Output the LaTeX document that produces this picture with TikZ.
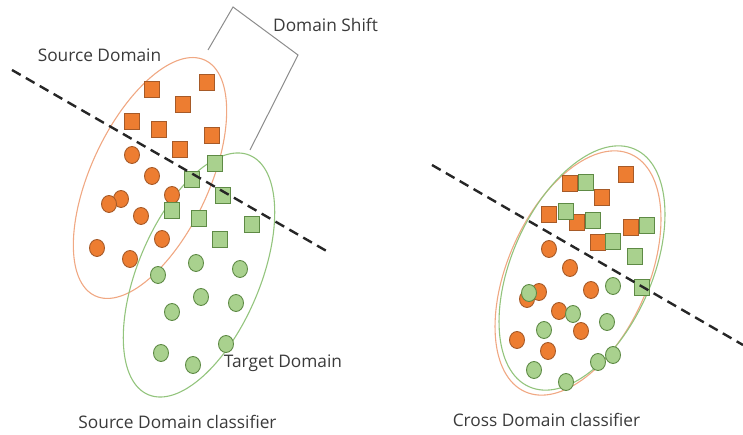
\documentclass[tikz,border=0pt]{standalone}
\usepackage{fontspec}
\setmainfont{Open Sans}
\usetikzlibrary{shapes.geometric}
\definecolor{ofill}{HTML}{ED7D31}
\definecolor{odraw}{HTML}{A65A28}
\definecolor{gfill}{HTML}{A9D18E}
\definecolor{gdraw}{HTML}{5E8A45}
\definecolor{oell}{HTML}{F0A883}
\definecolor{gell}{HTML}{93C47D}
\definecolor{txt}{HTML}{3A3A3A}
\definecolor{brk}{HTML}{8C8C8C}
\tikzset{
  osq/.style={rectangle,draw=odraw,fill=ofill,line width=0.9pt,minimum width=15pt,minimum height=16pt,inner sep=0pt},
  gsq/.style={rectangle,draw=gdraw,fill=gfill,line width=0.9pt,minimum width=15pt,minimum height=16pt,inner sep=0pt},
  oci/.style={ellipse,draw=odraw,fill=ofill,line width=0.9pt,minimum width=15pt,minimum height=17pt,inner sep=0pt},
  gci/.style={ellipse,draw=gdraw,fill=gfill,line width=0.9pt,minimum width=15pt,minimum height=17pt,inner sep=0pt},
  lbl/.style={text=txt,font=\fontsize{17.3}{20}\selectfont,inner sep=0pt},
  sep/.style={draw=black!85,line width=2.4pt,dash pattern=on 10pt off 6pt},
}
\begin{document}
\begin{tikzpicture}[x=1pt,y=1pt]
\useasboundingbox (0,0) rectangle (743,435);
% ellipses
\draw[oell,line width=1.1pt,rotate around={65:(150,257)}] (150,257) ellipse [x radius=130pt,y radius=59pt];
\draw[gell,line width=1.1pt,rotate around={67:(199,160)}] (199,160) ellipse [x radius=130pt,y radius=61pt];
\draw[oell,line width=1.1pt,rotate around={66:(578,162)}] (578,162) ellipse [x radius=130pt,y radius=70pt];
\draw[gell,line width=1.1pt,rotate around={66:(582,167)}] (582,167) ellipse [x radius=130pt,y radius=70pt];
% domain shift bracket
\coordinate (b1) at (208,385);
\coordinate (b2) at (233,428);
\coordinate (b3) at (298,380);
\coordinate (b4) at (250,285);
\draw[brk,line width=1pt] (b1) -- (b2) -- (b3) -- (b4);
% left panel
\foreach \p [count=\i] in {(152,346),(207,353),(183,331),(132,314),(159,306),(212,300),(180,286)}
  \node[osq] (los\i) at \p {};
\foreach \p [count=\i] in {(132,280),(152,259),(121,236),(109,231),(172,240),(141,219),(97,187),(130,176),(162,196)}
  \node[oci] (loc\i) at \p {};
\foreach \p [count=\i] in {(215,272),(192,256),(223,240),(172,225),(199,217),(220,196),(252,211)}
  \node[gsq] (lgs\i) at \p {};
\foreach \p [count=\i] in {(158,160),(196,172),(240,166),(201,138),(236,132),(172,123),(161,82),(193,70),(226,91)}
  \node[gci] (lgc\i) at \p {};
% right panel
\foreach \p [count=\i] in {(570,252),(626,261),(602,238),(549,221),(577,213),(631,208),(598,193)}
  \node[osq] (ros\i) at \p {};
\foreach \p [count=\i] in {(586,253),(566,224),(593,215),(647,210),(613,194),(635,179),(642,148)}
  \node[gsq] (rgs\i) at \p {};
\foreach \p [count=\i] in {(549,186),(570,167),(591,145),(539,143),(527,136),(559,124),(581,104),(517,95),(548,84)}
  \node[oci] (roc\i) at \p {};
\foreach \p [count=\i] in {(613,149),(529,142),(573,121),(607,113),(544,105),(598,73),(613,80),(534,65),(566,53)}
  \node[gci] (rgc\i) at \p {};
% separators
\coordinate (l1) at (12,365);
\coordinate (l2) at (330,182);
\coordinate (r1) at (432,270);
\coordinate (r2) at (743,90);
\draw[sep] (l1) -- (l2);
\draw[sep] (r1) -- (r2);
% labels
\node[lbl] (tsd) at (99.5,380) {Source Domain};
\node[lbl] (tds) at (325.5,410) {Domain Shift};
\node[lbl] (ttd) at (283,72) {Target Domain};
\node[lbl] (tsc) at (177.5,13) {Source Domain classifier};
\node[lbl] (tcc) at (546.5,15) {Cross Domain classifier};
\end{tikzpicture}
\end{document}
